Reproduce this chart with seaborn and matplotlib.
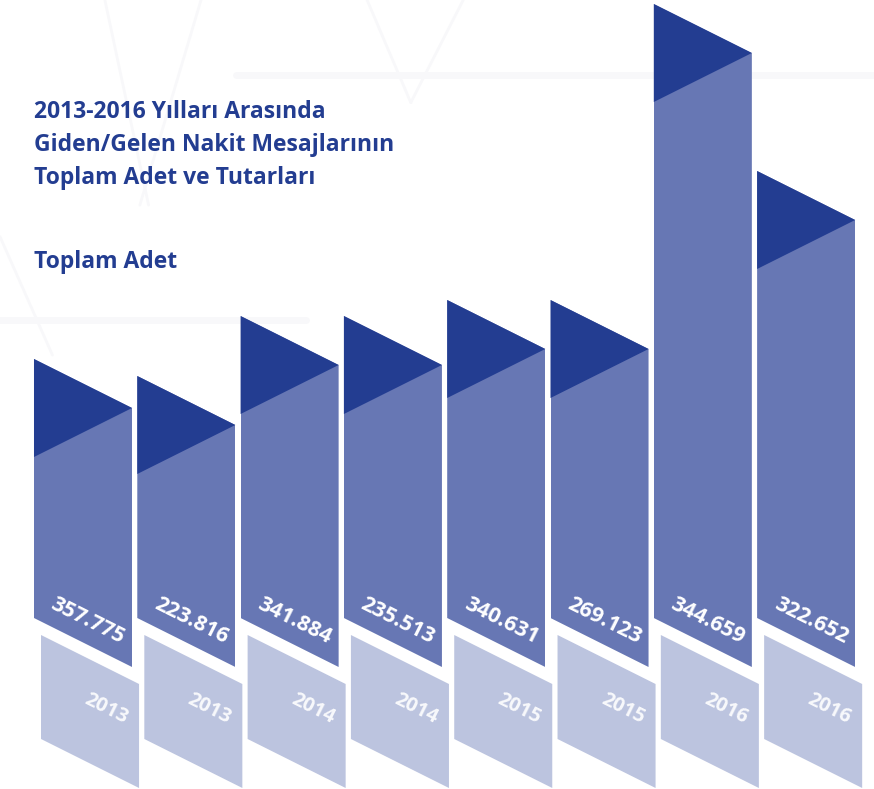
import matplotlib
matplotlib.use("Agg")
import matplotlib.pyplot as plt
from matplotlib.patches import Polygon
from matplotlib.lines import Line2D
import seaborn as sns
import numpy as np

# chart data
years = ["2013", "2013", "2014", "2014", "2015", "2015", "2016", "2016"]
totals = [357775, 223816, 341884, 235513, 340631, 269123, 344659, 322652]
# drawn column heights as read from the infographic (not proportional to totals)
bar_heights = [308, 291, 351, 351, 367, 367, 663, 496]

title_lines = ["2013-2016 Yılları Arasında",
               "Giden/Gelen Nakit Mesajlarının",
               "Toplam Adet ve Tutarları"]
subtitle = "Toplam Adet"

DARK = "#233d91"
MID = "#6777b4"
LIGHT = "#bcc4df"
TXT = "#233d91"

sns.set_theme(style="white")
plt.rcParams["font.family"] = ["Open Sans", "DejaVu Sans"]

fig = plt.figure(figsize=(8.74, 7.89), dpi=100)
ax = fig.add_axes([0, 0, 1, 1])

idx = np.arange(len(years))
width = 0.949
tri = 98    # triangle height in y units (pixels)
drop = tri / 2

sns.barplot(x=idx, y=bar_heights, color=MID, width=width, saturation=1,
            ax=ax, native_scale=True, edgecolor="none")

for i, (bar, h) in enumerate(zip(ax.patches, bar_heights)):
    xl, xr = i - width / 2, i + width / 2
    # column outline: slanted bottom and slanted top
    outline = Polygon([(xl, drop), (xr, 0), (xr, h - drop), (xl, h)],
                      closed=True, transform=ax.transData)
    bar.set_clip_path(outline)
    # dark triangle on top
    ax.add_patch(Polygon([(xl, h), (xr, h - drop), (xl, h - tri)],
                         closed=True, color=DARK, lw=0, zorder=3))
    # year box below
    off = 0.068
    ax.add_patch(Polygon([(xl + off, 32), (xr + off, 32 - drop),
                          (xr + off, 32 - drop - 104), (xl + off, 32 - 104)],
                         closed=True, color=LIGHT, lw=0, zorder=2))
    label = f"{totals[i]:,}".replace(",", ".")
    ax.text(i + 0.045, 46, label, rotation=-26.57, rotation_mode="anchor",
            ha="center", va="center", color="white", fontsize=15.5,
            fontweight="bold", zorder=4)
    ax.text(i + 0.225, -42, years[i], rotation=-26.57, rotation_mode="anchor",
            ha="center", va="center", color="white", alpha=0.9,
            fontsize=14.5, fontweight="bold", zorder=4)

ax.set_xlim(-0.8035, 7.657)
ax.set_ylim(-122, 667)
ax.axis("off")

# faint background pattern
for (x0, y0, x1, y1) in [(0.12, 1.0, 0.17, 0.74), (0.23, 1.0, 0.16, 0.74),
                         (0.42, 1.0, 0.47, 0.87), (0.53, 1.0, 0.47, 0.87),
                         (0.0, 0.7, 0.06, 0.55)]:
    fig.add_artist(Line2D([x0, x1], [y0, y1], color="#f8f8fa", lw=2, zorder=0))
fig.add_artist(Line2D([0.27, 1.0], [0.905, 0.905], color="#f8f8fa", lw=5, zorder=0))
fig.add_artist(Line2D([0.0, 0.35], [0.595, 0.595], color="#f8f8fa", lw=5, zorder=0))

for k, line in enumerate(title_lines):
    fig.text(34 / 874, 1 - (118 + 33 * k) / 789, line, color=TXT,
             fontsize=16.5, fontweight="bold", ha="left", va="baseline")
fig.text(34 / 874, 1 - 268 / 789, subtitle, color=TXT,
         fontsize=16.5, fontweight="bold", ha="left", va="baseline")

fig.savefig("out.png", dpi=100)
